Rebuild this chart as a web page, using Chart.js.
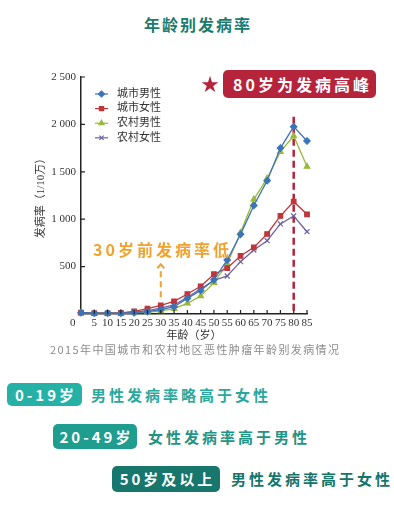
<!DOCTYPE html>
<html lang="zh">
<head>
<meta charset="UTF-8">
<title>年龄别发病率</title>
<style>
  body { margin: 0; background: #fff; font-family: "Noto Sans CJK SC", sans-serif; }
  .page { position: relative; width: 394px; height: 506px; overflow: hidden; }
  .abs { position: absolute; white-space: nowrap; }
  #chart { position: absolute; left: 0; top: 60px; }
  .title { left: 0; width: 394px; top: 13px; text-align: center; font-size: 16px; font-weight: bold;
           color: #1b7a6e; letter-spacing: 2px; line-height: 22px; text-indent: 2px; }
  .star { left: 201px; top: 72px; font-size: 18px; line-height: 22px; color: #b5243b; }
  .peak { left: 223px; top: 70px; width: 153px; height: 28px; border-radius: 5px; background: #b5243b;
          color: #fff; font-size: 16px; font-weight: bold; letter-spacing: 3px; line-height: 28px;
          box-sizing: border-box; padding-left: 10px; }
  .low { left: 93px; top: 238px; color: #f0a22e; font-size: 16px; font-weight: bold; letter-spacing: 3px; line-height: 22px; }
  .caption { left: 50px; top: 341px; color: #8c8c8c; font-size: 11px; letter-spacing: 1.4px; line-height: 16px; }
  .tag { color: #fff; font-size: 15px; font-weight: bold; letter-spacing: 3px; border-radius: 5px;
         box-sizing: border-box; text-align: center; text-indent: 3px; }
  .note { font-size: 15px; font-weight: bold; letter-spacing: 3px; line-height: 20px; }
</style>
</head>
<body>
<div class="page">
  <div class="abs title">年龄别发病率</div>
  <canvas id="chart" width="394" height="290"></canvas>
  <div class="abs star">★</div>
  <div class="abs peak">80岁为发病高峰</div>
  <div class="abs low">30岁前发病率低</div>
  <div class="abs caption">2015年中国城市和农村地区恶性肿瘤年龄别发病情况</div>

  <div class="abs tag" style="left:7px; top:383px; width:75px; height:23px; line-height:23px; background:#25b1a6;">0-19岁</div>
  <div class="abs note" style="left:91px; top:385px; color:#2aa89c;">男性发病率略高于女性</div>

  <div class="abs tag" style="left:53px; top:424px; width:84px; height:25px; line-height:25px; background:#1f9d8f;">20-49岁</div>
  <div class="abs note" style="left:148px; top:427px; color:#1f9486;">女性发病率高于男性</div>

  <div class="abs tag" style="left:112px; top:466px; width:108px; height:26px; line-height:26px; background:#17776c;">50岁及以上</div>
  <div class="abs note" style="left:231px; top:469px; color:#16756a;">男性发病率高于女性</div>
</div>

<script src="https://cdn.jsdelivr.net/npm/chart.js"></script>
<script>
// age groups (start of each 5-year band)
const ages = [0, 5, 10, 15, 20, 25, 30, 35, 40, 45, 50, 55, 60, 65, 70, 75, 80, 85];

// incidence per 100 000
const urbanMale   = [14, 8, 8, 9, 14, 25, 45, 77, 165, 248, 360, 570, 840, 1145, 1405, 1750, 1976, 1825];
const urbanFemale = [14, 8, 8, 12, 28, 56, 92, 134, 211, 292, 420, 485, 612, 703, 844, 1034, 1185, 1052];
const ruralMale   = [14, 8, 8, 8, 11, 18, 32, 56, 113, 190, 328, 530, 858, 1210, 1430, 1712, 1878, 1555];
const ruralFemale = [12, 8, 8, 10, 20, 35, 62, 95, 176, 264, 355, 401, 552, 675, 773, 950, 1034, 868];

const seriesNames = ['城市男性', '城市女性', '农村男性', '农村女性'];
const yTicks = [0, 500, 1000, 1500, 2000, 2500];

const peakAge = 80;      // red dashed line
const peakLineTop = 2080;
const lowAge = 30;       // orange arrow
const arrowFrom = 150;
const arrowTo = 525;

function pts(vals) {
  return ages.map((a, i) => ({ x: a, y: vals[i] }));
}

function yLabel(v) {
  if (v === 0) return '';
  if (v >= 1000) return Math.floor(v / 1000) + ' ' + String(v % 1000).padStart(3, '0');
  return String(v);
}

// inward tick marks, annotations and the legend
const decor = {
  id: 'decor',
  beforeDatasetsDraw(chart) {
    const { ctx, scales: { x, y } } = chart;
    ctx.save();
    ctx.strokeStyle = '#b5243b';
    ctx.lineWidth = 2.5;
    ctx.setLineDash([7, 4]);
    ctx.beginPath();
    ctx.moveTo(x.getPixelForValue(peakAge), y.getPixelForValue(peakLineTop));
    ctx.lineTo(x.getPixelForValue(peakAge), y.getPixelForValue(0));
    ctx.stroke();
    ctx.restore();
  },
  afterDatasetsDraw(chart) {
    const { ctx, scales: { x, y }, chartArea } = chart;
    ctx.save();

    // orange arrow
    const ax = x.getPixelForValue(lowAge);
    const tip = y.getPixelForValue(arrowTo);
    ctx.strokeStyle = '#f0a22e';
    ctx.lineWidth = 2;
    ctx.setLineDash([6, 4]);
    ctx.beginPath();
    ctx.moveTo(ax, tip + 7);
    ctx.lineTo(ax, y.getPixelForValue(arrowFrom));
    ctx.stroke();
    ctx.setLineDash([]);
    ctx.beginPath();
    ctx.moveTo(ax - 3.5, tip + 4);
    ctx.lineTo(ax, tip);
    ctx.lineTo(ax + 3.5, tip + 4);
    ctx.stroke();

    // ticks pointing into the plot
    ctx.strokeStyle = '#222';
    ctx.lineWidth = 1.2;
    ctx.beginPath();
    x.ticks.forEach(t => {
      if (t.value === 0) return;
      const px = x.getPixelForValue(t.value);
      ctx.moveTo(px, chartArea.bottom);
      ctx.lineTo(px, chartArea.bottom - 4);
    });
    y.ticks.forEach(t => {
      if (t.value === 0) return;
      const py = y.getPixelForValue(t.value);
      ctx.moveTo(chartArea.left, py);
      ctx.lineTo(chartArea.left + 4, py);
    });
    ctx.stroke();

    // legend
    const lx = chartArea.left + 14;
    let ly = chartArea.top + 17;
    ctx.font = '11px "Liberation Serif", "Noto Sans CJK SC", serif';
    ctx.textBaseline = 'middle';
    chart.data.datasets.forEach(ds => {
      ctx.strokeStyle = ds.borderColor;
      ctx.lineWidth = 1.2;
      ctx.beginPath();
      ctx.moveTo(lx, ly);
      ctx.lineTo(lx + 13, ly);
      ctx.stroke();
      if (Chart.helpers && Chart.helpers.drawPoint) {
        ctx.fillStyle = ds.backgroundColor;
        Chart.helpers.drawPoint(ctx, { pointStyle: ds.pointStyle, radius: 3, borderWidth: 1.2, rotation: 0 }, lx + 6.5, ly);
      }
      ctx.fillStyle = '#333';
      ctx.fillText(ds.label, lx + 22, ly);
      ly += 14.6;
    });
    ctx.restore();
  }
};

const colors = ['#3b74b9', '#c0353a', '#9ab83a', '#6e62a3'];
const styles = ['rectRot', 'rect', 'triangle', 'crossRot'];
const values = [urbanMale, urbanFemale, ruralMale, ruralFemale];

Chart.defaults.font.family = '"Liberation Serif", "Noto Sans CJK SC", serif';
Chart.defaults.color = '#333';

new Chart(document.getElementById('chart'), {
  type: 'line',
  data: {
    datasets: values.map((v, i) => ({
      label: seriesNames[i],
      data: pts(v),
      borderColor: colors[i],
      backgroundColor: colors[i],
      pointStyle: styles[i],
      pointRadius: styles[i] === 'crossRot' ? 3.5 : 3.2,
      pointBorderWidth: 1.2,
      borderWidth: 1.3,
      clip: false
    }))
  },
  options: {
    responsive: false,
    devicePixelRatio: 1,
    animation: false,
    layout: { padding: { left: 30, right: 87, top: 17, bottom: 0 } },
    plugins: { legend: { display: false }, tooltip: { enabled: false } },
    scales: {
      x: {
        type: 'linear',
        min: 0, max: 85,
        afterFit(s) { s.height = 36; },
        grid: { display: false, drawTicks: false },
        border: { display: true, color: '#222', width: 1.5 },
        ticks: {
          stepSize: 5, autoSkip: false, maxRotation: 0, padding: 3,
          font: { size: 11 }, color: '#333',
          callback: v => (v === 0 ? '0      ' : String(v))
        },
        title: { display: true, text: '年龄（岁）', font: { size: 11 }, color: '#333', padding: { top: 0, bottom: 7 } }
      },
      y: {
        min: 0, max: 2500,
        afterFit(s) { s.width = 51; },
        afterBuildTicks(s) { s.ticks = yTicks.map(v => ({ value: v })); },
        grid: { display: false, drawTicks: false },
        border: { display: true, color: '#222', width: 1.5 },
        ticks: { padding: 5, font: { size: 11 }, color: '#333', callback: v => yLabel(v) },
        title: { display: true, text: '发病率（1/10万）', font: { size: 11 }, color: '#333', padding: { top: 5, bottom: 0 } }
      }
    }
  },
  plugins: [decor]
});
</script>
</body>
</html>
